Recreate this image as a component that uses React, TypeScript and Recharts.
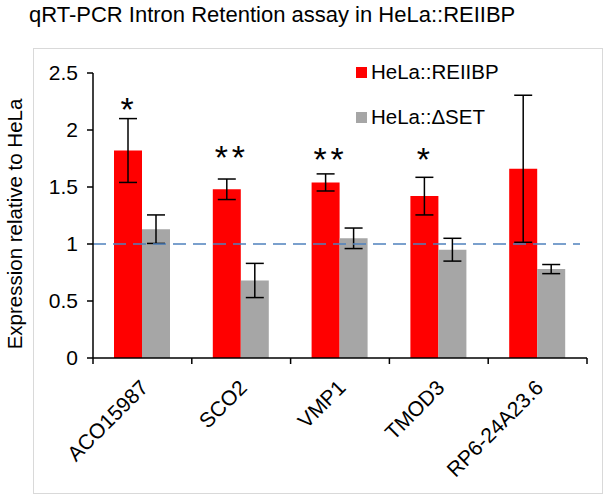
import React from 'react';
import {
  BarChart,
  Bar,
  XAxis,
  YAxis,
  ErrorBar,
  ReferenceLine,
  LabelList,
} from 'recharts';

const categories = ['ACO15987', 'SCO2', 'VMP1', 'TMOD3', 'RP6-24A23.6'];
const reiibpValues = [1.82, 1.48, 1.54, 1.42, 1.66];
const reiibpErrors = [0.28, 0.09, 0.075, 0.165, 0.645];
const dsetValues = [1.13, 0.68, 1.05, 0.95, 0.78];
const dsetErrors = [0.125, 0.15, 0.09, 0.1, 0.04];
const significance = ['*', '**', '**', '*', ''];
const significanceLevel = [2.245, 1.825, 1.81, 1.81, 0];
const yTicks = [0, 0.5, 1, 1.5, 2, 2.5];
const seriesNames = ['HeLa::REIIBP', 'HeLa::\u0394SET'];
const seriesColors = ['#FF0000', '#A6A6A6'];
const titleText = 'qRT-PCR Intron Retention assay in HeLa::REIIBP';
const yLabelText = 'Expression relative to HeLa';

const FONT = '"Liberation Sans", Arial, Helvetica, sans-serif';

const rows = categories.map((c, i) => ({
  idx: i,
  name: c,
  reiibp: reiibpValues[i],
  reiibpErr: reiibpErrors[i],
  dset: dsetValues[i],
  dsetErr: dsetErrors[i],
  sig: significance[i],
  sigLevel: significanceLevel[i],
}));

const StarLabel = (props: any) => {
  const vb = props.viewBox ?? props;
  const x = Number(vb.x ?? props.x);
  const y = Number(vb.y ?? props.y);
  const w = Number(vb.width ?? props.width);
  const h = Number(vb.height ?? props.height);
  const i = Number(props.value);
  const row = rows[i];
  if (!row || !row.sig || !h) return null;
  const base = y + h;
  const ppu = h / row.reiibp;
  const cy = base - row.sigLevel * ppu;
  const fs = 34;
  const cx = x + w / 2 + (row.sig.length > 1 ? 3 : -1);
  const n = row.sig.length;
  return (
    <g>
      {Array.from(row.sig).map((s, k) => (
        <text
          key={k}
          x={cx + (k - (n - 1) / 2) * 17}
          y={cy + 0.57 * fs}
          textAnchor="middle"
          fontSize={fs}
          fontFamily={FONT}
          fill="#000"
        >
          {s}
        </text>
      ))}
    </g>
  );
};

const XTick = (props: any) => {
  const { x, y, payload, index, visibleTicksCount } = props;
  const half = payload && typeof payload.offset === 'number' && payload.offset > 0 ? payload.offset : 49.4;
  const last = index === (visibleTicksCount ?? categories.length) - 1;
  const ax = x + 7;
  const ay = y + 31;
  return (
    <g>
      <line x1={x - half} y1={y} x2={x - half} y2={y + 6} stroke="#000" strokeWidth={1.5} />
      {last && <line x1={x + half} y1={y} x2={x + half} y2={y + 6} stroke="#000" strokeWidth={1.5} />}
      <text
        x={ax}
        y={ay}
        textAnchor="end"
        fontSize={21}
        fontFamily={FONT}
        fill="#000"
        transform={`rotate(-45, ${ax}, ${ay})`}
      >
        {payload.value}
      </text>
    </g>
  );
};

const YLabel = (props: any) => {
  const vb = props.viewBox || { x: 0, y: 73, width: 93, height: 285 };
  const cx = vb.x + 14;
  const cy = vb.y + vb.height / 2 + 8.5;
  return (
    <text
      x={cx}
      y={cy}
      textAnchor="middle"
      dominantBaseline="central"
      fontSize={20.5}
      fontFamily={FONT}
      fill="#000"
      transform={`rotate(-90, ${cx}, ${cy})`}
    >
      {yLabelText}
    </text>
  );
};

const ChartLegend = () => (
  <div
    style={{
      position: 'absolute',
      left: 356,
      top: 60,
      fontFamily: FONT,
      fontSize: 20.5,
      color: '#000',
      whiteSpace: 'nowrap',
    }}
  >
    {seriesNames.map((n, i) => (
      <div key={n} style={{ display: 'flex', alignItems: 'center', height: 24, marginBottom: i === 0 ? 21 : 0 }}>
        <span
          style={{
            display: 'inline-block',
            width: 11,
            height: 11,
            background: seriesColors[i],
            marginRight: 4,
          }}
        />
        <span>{n}</span>
      </div>
    ))}
  </div>
);

const RefShape = (p: any) => (
  <line
    x1={p.x1}
    y1={p.y1}
    x2={p.x2 - 7}
    y2={p.y2}
    stroke="#4F81BD"
    strokeWidth={1.5}
    strokeDasharray="13 7"
  />
);

export default function App() {
  return (
    <div
      style={{
        position: 'absolute',
        left: 0,
        top: 0,
        width: 608,
        height: 500,
        background: '#fff',
        fontFamily: FONT,
      }}
    >
      <div
        style={{
          position: 'absolute',
          left: 29,
          top: 2,
          fontSize: 22,
          whiteSpace: 'nowrap',
          color: '#000',
        }}
      >
        {titleText}
      </div>
      <div
        style={{
          position: 'absolute',
          left: 33,
          top: 48,
          width: 568,
          height: 444,
          border: '1px solid #D9D9D9',
        }}
      />
      <div style={{ position: 'absolute', left: 0, top: 0 }}>
        <BarChart
          width={608}
          height={500}
          data={rows}
          margin={{ top: 73, right: 21, left: 0, bottom: 0 }}
          barGap={0}
          barSize={28}
        >
          <XAxis
            dataKey="name"
            type="category"
            height={142}
            interval={0}
            tickSize={0}
            tickMargin={0}
            tickLine={false}
            axisLine={{ stroke: '#000', strokeWidth: 1.5 }}
            tick={<XTick />}
          />
          <YAxis
            type="number"
            domain={[0, 2.5]}
            ticks={yTicks}
            width={93}
            tickSize={6}
            tickMargin={9}
            axisLine={{ stroke: '#000', strokeWidth: 1.5 }}
            tickLine={{ stroke: '#000', strokeWidth: 1.5 }}
            tick={{ fill: '#000', fontSize: 21, fontFamily: FONT }}
            tickFormatter={(v: number) => String(v)}
            label={<YLabel />}
          />
          <Bar dataKey="reiibp" name={seriesNames[0]} fill={seriesColors[0]} isAnimationActive={false}>
            <ErrorBar dataKey="reiibpErr" width={9} stroke="#000" strokeWidth={1.5} direction="y" />
            <LabelList dataKey="idx" content={<StarLabel />} />
          </Bar>
          <Bar dataKey="dset" name={seriesNames[1]} fill={seriesColors[1]} isAnimationActive={false}>
            <ErrorBar dataKey="dsetErr" width={9} stroke="#000" strokeWidth={1.5} direction="y" />
          </Bar>
          <ReferenceLine y={1} ifOverflow="visible" shape={<RefShape />} />
        </BarChart>
      </div>
      <ChartLegend />
    </div>
  );
}
